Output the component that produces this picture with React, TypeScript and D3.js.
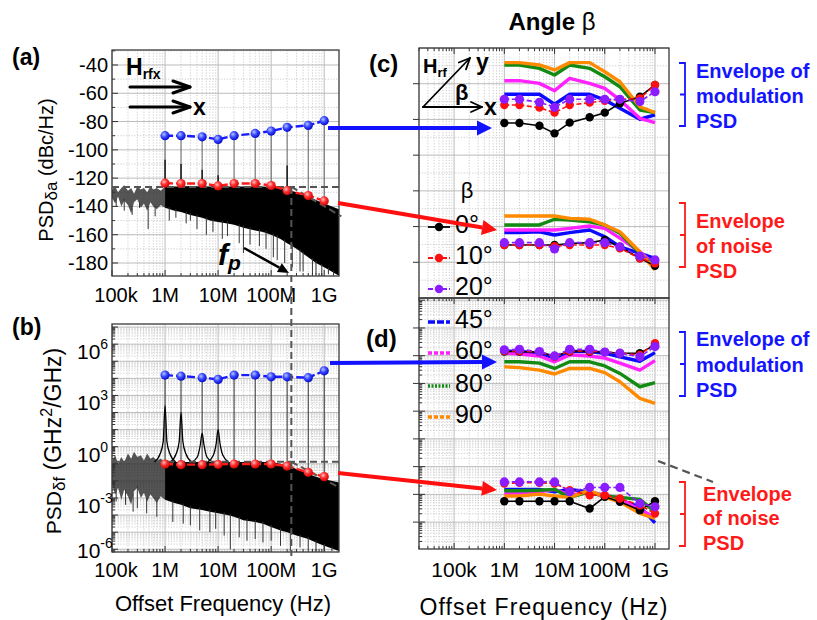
import React from "react";
import * as d3 from "d3";

const FONT = "'Liberation Sans', Arial, Helvetica, sans-serif";

// ---------- shared ----------
const FREQS = [1e6, 2e6, 5e6, 1e7, 2e7, 5e7, 1e8, 2e8, 5e8, 1e9];
const X_TICKS = [1e5, 1e6, 1e7, 1e8, 1e9];
const X_TICK_LABELS = ["100k", "1M", "10M", "100M", "1G"];
const F_P = 2.4e8;

// noise envelope sample frequencies (Hz)
const NOISE_F = [1e5, 1.15e5, 1.3e5, 1.5e5, 1.7e5, 2e5, 2.3e5, 2.6e5, 3e5, 3.5e5, 4e5, 4.6e5, 5.3e5, 6e5, 7e5, 8.3e5, 1e6,
  1.5e6, 2e6, 3e6, 5e6, 7e6, 1e7, 1.5e7, 2e7, 3e7, 5e7, 7e7, 1e8, 1.5e8, 2e8, 3e8, 5e8, 7e8, 1e9, 1.9e9];

// ---------- panel (a): PSD_δa (dBc/Hz) ----------
const A_MOD = [-90, -90, -90.8, -92.6, -90, -88.4, -86.7, -84.1, -82.7, -79.4];
const A_NOISE = [-123.6, -123.8, -123.8, -125.5, -123.8, -123.8, -125.2, -128.8, -132.3, -136.1];
const A_SPIKE_BASE = [-107, -110, -114, -118, -124, -126, -124, -111, -130, -136];
const A_NOISE_UP = [-128, -126, -130, -127, -125, -129, -127, -131, -126, -128, -127, -130, -126, -128, -127, -129, -126,
  -126, -126, -125.5, -126, -126, -126, -126, -126, -126, -126, -126, -126.5, -127, -128, -130, -133, -135.5, -138, -142];
const A_NOISE_LO = [-134, -138, -133, -140, -136, -139, -145, -137, -135, -141, -138, -143, -137, -140, -142, -139, -141,
  -143, -144, -146, -148, -150, -151, -152, -153, -155, -157, -158, -160, -163, -166, -170, -176, -180, -183, -189];
const A_DIP_F = [1.2e5, 1.7e5, 2.4e5, 3.3e5, 4.8e5, 6.5e5, 1.2e6, 1.6e6, 2.5e6, 3e6, 4e6, 6e6, 8e6, 1.2e7, 1.5e7, 2.5e7, 3e7, 4e7,
  6e7, 8e7, 1.1e8, 1.3e8, 1.8e8, 2.5e8, 3.5e8, 4e8, 6e8, 7e8, 9e8, 1.2e9, 1.5e9];
const A_DIP_V = [-140, -143, -146, -141, -156, -147, -150, -148, -152, -150, -156, -160, -158, -163, -161, -166, -173, -167,
  -168, -170, -176, -178, -180, -183, -186, -186, -188, -188, -189, -188, -189];
const A_Y_TICKS = [-40, -60, -80, -100, -120, -140, -160, -180];
const A_PLATEAU = -126.2;
const A_SLOPE_END = -147;

// ---------- panel (b): PSD_δf (GHz²/GHz), log10 values ----------
const B_MOD = [4.19, 4.13, 4.04, 3.94, 4.19, 4.19, 4.09, 4.09, 4.04, 4.44];
const B_NOISE = [-1.01, -1.05, -1.05, -1.03, -1.01, -1.01, -1.01, -1.13, -1.5, -1.75];
const B_NOISE_UP = [-0.8, -0.5, -1.0, -0.6, -0.9, -0.4, -0.7, -0.3, -0.6, -0.5, -0.8, -0.4, -0.7, -0.6, -0.8, -0.7, -0.9,
  -0.9, -0.9, -0.9, -0.9, -0.9, -0.9, -0.9, -0.9, -0.9, -0.9, -0.9, -0.9, -1.0, -1.1, -1.3, -1.6, -1.75, -1.9, -2.1];
const B_NOISE_LO = [-2.2, -2.8, -2.4, -3.1, -2.5, -2.9, -3.4, -2.6, -2.4, -3.0, -2.7, -3.2, -2.8, -3.0, -3.3, -2.9, -3.1,
  -3.3, -3.4, -3.6, -3.7, -3.8, -3.9, -4.0, -4.1, -4.3, -4.4, -4.5, -4.7, -4.9, -5.0, -5.2, -5.4, -5.6, -5.8, -6.1];
const B_DIP_F = [1.2e5, 1.8e5, 2.5e5, 3e5, 4.5e5, 7e5, 1.4e6, 2.2e6, 3e6, 4.5e6, 7e6, 9e6, 1.3e7, 1.7e7, 2.5e7, 3.5e7, 5e7,
  7e7, 1e8, 1.5e8, 2.3e8, 3.5e8, 5e8, 7e8, 1e9, 1.4e9];
const B_DIP_V = [-3.2, -3.4, -3.8, -3.6, -3.9, -4.1, -4.4, -4.5, -4.6, -4.9, -5.0, -4.8, -5.2, -6.0, -5.3, -5.5, -5.4,
  -5.6, -5.5, -5.8, -6.1, -5.9, -6.0, -6.1, -6.1, -6.1];
const B_PEAK_F = [1e6, 2e6, 5e6, 1e7];
const B_PEAK_TOP = [2.4, 2.0, 0.8, 1.0];
const B_PEAK_SHOULDER = [0.3, 0.3, 0.1, 0.2];
const B_Y_TICKS = [6, 3, 0, -3, -6];
const B_PLATEAU = -0.88;
const B_SLOPE_END = -2.3;

// ---------- panel (c): envelopes vs angle β (dB) ----------
const C_MOD_0 = [-82, -82, -83.5, -87.8, -81.8, -78.8, -76.2, -71, -67.3, -60.7];
const C_MOD_10 = [-71.9, -71.9, -73.4, -76.2, -71.9, -70.6, -69.5, -68.7, -68.2, -60.7];
const C_MOD_20 = [-68.7, -68.7, -70.4, -73.2, -68.7, -68.7, -68.7, -68.7, -70, -64.5];
const C_MOD_45 = [-65.9, -65.9, -65.9, -71.5, -65.9, -65.9, -69.1, -73.8, -79.9, -77.5];
const C_MOD_60 = [-58.3, -58.3, -59.8, -63.9, -57, -59.8, -62.6, -69.1, -79.4, -81.8];
const C_MOD_80 = [-49.5, -49.5, -51.4, -55.1, -49.5, -51.4, -56.1, -61.7, -74.7, -76.2];
const C_MOD_90 = [-48.2, -48.2, -49.5, -52.3, -48.2, -48.2, -53.3, -58.9, -72.9, -76.2];
const C_NOISE_0 = [-150.3, -150.3, -150.3, -150.3, -149.5, -149, -147.5, -151.3, -157.8, -162];
const C_NOISE_10 = [-150.3, -150.3, -150.3, -151, -150.3, -150.3, -150.3, -152.2, -157.8, -160.5];
const C_NOISE_20 = [-149, -149, -149, -152.5, -149, -149, -149, -151.3, -156.5, -158.7];
const C_NOISE_45 = [-143.4, -143.4, -142.9, -144.7, -143.4, -141.9, -145.7, -151.3, -155, -157.8];
const C_NOISE_60 = [-141.9, -141.9, -141.9, -141.9, -141, -139.7, -141, -146.5, -154.1, -161.5];
const C_NOISE_80 = [-139.1, -139.1, -139.1, -135.9, -136.3, -137.3, -139.1, -143.8, -155, -162.4];
const C_NOISE_90 = [-134.1, -134.1, -134.1, -134.1, -135.4, -135.9, -139.1, -142.9, -154.1, -164.3];
const C_Y_TICKS = [-60, -80, -100, -120, -140, -160];

// ---------- panel (d): envelopes vs angle β (log10) ----------
const D_MOD_0 = [4.15, 4.15, 4.13, 3.99, 4.15, 4.15, 4.13, 4.09, 4.09, 4.39];
const D_MOD_10 = [4.17, 4.17, 4.13, 3.96, 4.17, 4.17, 4.13, 4.09, 4.03, 4.45];
const D_MOD_20 = [4.21, 4.23, 4.15, 3.99, 4.23, 4.23, 4.13, 4.09, 3.96, 4.33];
const D_MOD_45 = [4.17, 4.15, 4.09, 3.91, 4.15, 4.15, 4.09, 3.96, 3.8, 4.11];
const D_MOD_60 = [4.09, 4.06, 3.99, 3.78, 4.03, 3.99, 3.91, 3.73, 3.48, 3.82];
const D_MOD_80 = [3.78, 3.78, 3.73, 3.54, 3.78, 3.78, 3.63, 3.36, 2.88, 3.03];
const D_MOD_90 = [3.6, 3.57, 3.48, 3.34, 3.54, 3.54, 3.39, 3.06, 2.46, 2.28];
const D_NOISE_0 = [-1.25, -1.25, -1.25, -1.25, -1.25, -1.51, -1.09, -1.27, -1.57, -1.25];
const D_NOISE_10 = [-0.61, -0.58, -0.58, -0.61, -0.85, -1.03, -1.03, -1.15, -1.39, -1.69];
const D_NOISE_20 = [-0.55, -0.55, -0.55, -0.55, -0.91, -0.75, -0.75, -0.75, -1.33, -1.45];
const D_NOISE_45 = [-0.82, -0.82, -0.82, -0.91, -0.82, -0.91, -1.09, -1.21, -1.45, -2.03];
const D_NOISE_60 = [-0.97, -0.97, -0.91, -0.82, -1.03, -0.91, -1.03, -1.15, -1.57, -1.81];
const D_NOISE_80 = [-0.87, -0.87, -0.85, -0.82, -1.11, -0.91, -1.06, -1.11, -1.18, -1.63];
const D_NOISE_90 = [-1.06, -1.06, -0.99, -1.06, -1.11, -0.85, -1.11, -1.27, -1.69, -1.87];
const D_Y_TICKS = [-2, -1, 0, 1, 2, 3, 4, 5];

const ANGLE_LABELS = ["0°", "10°", "20°", "45°", "60°", "80°", "90°"];
const ANGLE_COLORS = ["#000000", "#ff1010", "#8a1cff", "#0a0aff", "#ff22ff", "#138a13", "#ff8a00"];

// ---------- scales ----------
const xAB = d3.scaleLog().domain([1e5, 1.9e9]).range([112, 339]);
const yA = d3.scaleLinear().domain([-189.2, -29.4]).range([276, 50]);
const yB = d3.scaleLinear().domain([-6.16, 7.18]).range([552, 324]);
const xCD = d3.scaleLog().domain([2e4, 1.9e9]).range([419, 669]);
const yC = d3.scaleLinear().domain([-180, -40]).range([298, 48]);
const yD = d3.scaleLinear().domain([-2.97, 6.08]).range([549, 298]);

type Sc = (v: number) => number;

function logVals(lo: number, hi: number) {
  const out: { v: number; major: boolean }[] = [];
  for (let n = Math.floor(Math.log10(lo)); n <= Math.ceil(Math.log10(hi)); n++)
    for (let k = 1; k <= 9; k++) {
      const v = k * Math.pow(10, n);
      if (v >= lo * 0.999 && v <= hi * 1.001) out.push({ v, major: k === 1 });
    }
  return out;
}
function log10Vals(lo: number, hi: number) {
  const out: { v: number; major: boolean }[] = [];
  for (let n = Math.floor(lo); n <= Math.ceil(hi); n++)
    for (let k = 1; k <= 9; k++) {
      const v = n + Math.log10(k);
      if (v >= lo && v <= hi) out.push({ v, major: k === 1 });
    }
  return out;
}
function linVals(lo: number, hi: number, step: number, majorStep: number) {
  const out: { v: number; major: boolean }[] = [];
  const s = Math.ceil(lo / step) * step;
  for (let v = s; v <= hi + 1e-9; v += step) out.push({ v, major: Math.abs(v / majorStep - Math.round(v / majorStep)) < 1e-6 });
  return out;
}

const GRID_MAJ = "#bcbcbc";
const GRID_MIN = "#cdcdcd";

function Grid({ x, y, xv, yv }: { x: any; y: any; xv: any[]; yv: any[] }) {
  const [x0, x1] = x.range();
  const [y1, y0] = y.range();
  return (
    <g>
      {xv.map((t, i) => (
        <line key={"gx" + i} x1={x(t.v)} x2={x(t.v)} y1={y0} y2={y1}
          stroke={t.major ? GRID_MAJ : GRID_MIN} strokeWidth={1} strokeDasharray={t.major ? undefined : "1.2,1.6"} />
      ))}
      {yv.map((t, i) => (
        <line key={"gy" + i} x1={x0} x2={x1} y1={y(t.v)} y2={y(t.v)}
          stroke={t.major ? GRID_MAJ : GRID_MIN} strokeWidth={1} strokeDasharray={t.major ? undefined : "1.2,1.6"} />
      ))}
    </g>
  );
}

function Ticks({ x, y, xv, yv }: { x: any; y: any; xv: any[]; yv: any[] }) {
  const [x0] = x.range();
  const [y1] = y.range();
  return (
    <g stroke="#333" strokeWidth={1}>
      {xv.map((t, i) => (
        <line key={"tx" + i} x1={x(t.v)} x2={x(t.v)} y1={y1} y2={y1 - (t.major ? 6 : 3)} />
      ))}
      {yv.map((t, i) => (
        <line key={"ty" + i} x1={x0} x2={x0 + (t.major ? 6 : 3)} y1={y(t.v)} y2={y(t.v)} />
      ))}
    </g>
  );
}

function Frame({ x, y }: { x: any; y: any }) {
  const [x0, x1] = x.range();
  const [y1, y0] = y.range();
  return <rect x={x0} y={y0} width={x1 - x0} height={y1 - y0} fill="none" stroke="#3a3a3a" strokeWidth={1.3} />;
}

function SolidArrow({ x1, y1, x2, y2, color, w = 4, head = 15, hw = 7.5 }: any) {
  const a = Math.atan2(y2 - y1, x2 - x1);
  const bx = x2 - head * Math.cos(a);
  const by = y2 - head * Math.sin(a);
  const px = -Math.sin(a) * hw;
  const py = Math.cos(a) * hw;
  return (
    <g>
      <line x1={x1} y1={y1} x2={bx} y2={by} stroke={color} strokeWidth={w} />
      <polygon points={`${x2},${y2} ${bx + px},${by + py} ${bx - px},${by - py}`} fill={color} />
    </g>
  );
}

function OpenArrow({ x1, y1, x2, y2, w = 2.2, head = 14, hw = 7 }: any) {
  const a = Math.atan2(y2 - y1, x2 - x1);
  const bx = x2 - head * Math.cos(a);
  const by = y2 - head * Math.sin(a);
  const px = -Math.sin(a) * hw;
  const py = Math.cos(a) * hw;
  return (
    <g stroke="#000" strokeWidth={w} fill="none" strokeLinecap="round" strokeLinejoin="round">
      <line x1={x1} y1={y1} x2={x2} y2={y2} />
      <polyline points={`${bx + px},${by + py} ${x2},${y2} ${bx - px},${by - py}`} />
    </g>
  );
}

function Bracket({ x, y0, y1, color }: any) {
  const ym = (y0 + y1) / 2;
  return (
    <path d={`M${x - 6},${y0} H${x} V${y1} H${x - 6} M${x},${ym} H${x - 5}`} fill="none" stroke={color} strokeWidth={1.8} />
  );
}

export default function App() {
  const lineA = d3.line<number>().x((_, i) => xAB(FREQS[i])).y((d) => yA(d));
  const lineB = d3.line<number>().x((_, i) => xAB(FREQS[i])).y((d) => yB(d));
  const lineC = d3.line<number>().x((_, i) => xCD(FREQS[i])).y((d) => yC(d));
  const lineD = d3.line<number>().x((_, i) => xCD(FREQS[i])).y((d) => yD(d));

  const idxLow = NOISE_F.filter((f) => f <= 1e6).length;
  const areaA = d3.area<number>().x((i) => xAB(NOISE_F[i])).y0((i) => yA(A_NOISE_LO[i])).y1((i) => yA(A_NOISE_UP[i]));
  const areaB = d3.area<number>().x((i) => xAB(NOISE_F[i])).y0((i) => yB(B_NOISE_LO[i])).y1((i) => yB(B_NOISE_UP[i]));
  const idxAll = NOISE_F.map((_, i) => i);
  const lowIdx = idxAll.slice(0, idxLow);
  const highIdx = idxAll.slice(idxLow - 1);

  const interpAt = (f: number, F: number[], U: number[]) => {
    const lf = Math.log10(f);
    for (let i = 0; i < F.length - 1; i++) {
      const a = Math.log10(F[i]), b = Math.log10(F[i + 1]);
      if (lf >= a && lf <= b) return U[i] + ((lf - a) / (b - a)) * (U[i + 1] - U[i]);
    }
    return U[U.length - 1];
  };

  const cMod = [C_MOD_0, C_MOD_10, C_MOD_20, C_MOD_45, C_MOD_60, C_MOD_80, C_MOD_90];
  const cNoise = [C_NOISE_0, C_NOISE_10, C_NOISE_20, C_NOISE_45, C_NOISE_60, C_NOISE_80, C_NOISE_90];
  const dMod = [D_MOD_0, D_MOD_10, D_MOD_20, D_MOD_45, D_MOD_60, D_MOD_80, D_MOD_90];
  const dNoise = [D_NOISE_0, D_NOISE_10, D_NOISE_20, D_NOISE_45, D_NOISE_60, D_NOISE_80, D_NOISE_90];

  const thickOrder = [3, 4, 5, 6];
  const markOrder = [0, 1, 2];

  const renderAngleSet = (mods: number[][], noises: number[][], line: any, y: Sc) => (
    <g>
      {thickOrder.map((k) => (
        <g key={"t" + k}>
          <path d={line(mods[k])} fill="none" stroke={ANGLE_COLORS[k]} strokeWidth={3.4} strokeLinejoin="round" />
          <path d={line(noises[k])} fill="none" stroke={ANGLE_COLORS[k]} strokeWidth={3.4} strokeLinejoin="round" />
        </g>
      ))}
      {markOrder.map((k) => (
        <g key={"m" + k}>
          {[mods[k], noises[k]].map((arr, j) => (
            <g key={j}>
              <path d={line(arr)} fill="none" stroke={ANGLE_COLORS[k]} strokeWidth={1.6}
                strokeDasharray={k === 0 ? undefined : "5,2.5"} />
              {arr.map((v, i) => (
                <circle key={i} cx={xCD(FREQS[i])} cy={y(v)} r={k === 2 ? 4.6 : 4.2} fill={ANGLE_COLORS[k]} />
              ))}
            </g>
          ))}
        </g>
      ))}
    </g>
  );

  const xTicksAB = logVals(1e5, 1.9e9);
  const xTicksCD = logVals(2e4, 1.9e9);

  const legendY = [227, 258, 289, 322, 353, 386, 417];
  const legendDash = [undefined, "5,2", "5,2", "7,2", "4,2", "2,1.5", "4,2"];

  const peakOffsets = [-0.2, -0.09, -0.035, 0, 0.035, 0.09, 0.2];

  return (
    <div style={{ position: "absolute", left: 0, top: 0 }}>
      <svg width={817} height={620} viewBox="0 0 817 620" style={{ display: "block", fontFamily: FONT }}>
        <defs>
          <radialGradient id="ballBlue" cx="38%" cy="35%" r="70%">
            <stop offset="0" stopColor="#b8c4ff" />
            <stop offset="0.45" stopColor="#3a4cff" />
            <stop offset="1" stopColor="#0000c8" />
          </radialGradient>
          <radialGradient id="ballRed" cx="38%" cy="35%" r="70%">
            <stop offset="0" stopColor="#ffc0c0" />
            <stop offset="0.45" stopColor="#ff3030" />
            <stop offset="1" stopColor="#c80000" />
          </radialGradient>
          <clipPath id="clipA"><rect x={112} y={50} width={227} height={226} /></clipPath>
          <clipPath id="clipB"><rect x={112} y={324} width={227} height={228} /></clipPath>
        </defs>
        <rect x={0} y={0} width={817} height={620} fill="#fff" />

        {/* ================= panel (a) ================= */}
        <Grid x={xAB} y={yA} xv={xTicksAB} yv={linVals(-189, -30, 10, 20)} />
        <g clipPath="url(#clipA)">
          <path d={areaA(lowIdx) || ""} fill="#2a2a2a" opacity={0.8} />
          <path d={areaA(highIdx) || ""} fill="#000" />
          {A_DIP_F.map((f, i) => (
            <line key={i} x1={xAB(f)} x2={xAB(f)} y1={yA(interpAt(f, NOISE_F, A_NOISE_LO)) - 2} y2={yA(A_DIP_V[i])} stroke="#333" strokeWidth={1} />
          ))}
          {FREQS.map((f, i) => (
            <g key={"sp" + i}>
              <line x1={xAB(f)} x2={xAB(f)} y1={yA(A_NOISE[i])} y2={yA(A_MOD[i])} stroke="#666" strokeWidth={1} />
              <line x1={xAB(f)} x2={xAB(f)} y1={yA(A_NOISE[i])} y2={yA(A_SPIKE_BASE[i])} stroke="#111" strokeWidth={1.4} />
            </g>
          ))}
        </g>
        <Ticks x={xAB} y={yA} xv={xTicksAB} yv={linVals(-189, -30, 10, 20)} />
        <Frame x={xAB} y={yA} />
        <line x1={112} x2={339} y1={yA(A_PLATEAU)} y2={yA(A_PLATEAU)} stroke="#555" strokeWidth={2} strokeDasharray="7,4" />
        <line x1={xAB(F_P)} x2={xAB(2.1e9)} y1={yA(A_PLATEAU)} y2={yA(A_SLOPE_END)} stroke="#555" strokeWidth={2} strokeDasharray="7,4" />
        <path d={lineA(A_MOD) || ""} fill="none" stroke="#1a1aff" strokeWidth={2.4} strokeDasharray="8,3" />
        {A_MOD.map((v, i) => <circle key={i} cx={xAB(FREQS[i])} cy={yA(v)} r={4.6} fill="url(#ballBlue)" />)}
        <path d={lineA(A_NOISE) || ""} fill="none" stroke="#ff1a1a" strokeWidth={2.4} strokeDasharray="8,3" />
        {A_NOISE.map((v, i) => <circle key={i} cx={xAB(FREQS[i])} cy={yA(v)} r={4.6} fill="url(#ballRed)" />)}
        {A_Y_TICKS.map((v) => (
          <text key={v} x={108} y={yA(v) + 7} textAnchor="end" fontSize={20}>{v}</text>
        ))}
        {X_TICKS.map((v, i) => (
          <text key={v} x={xAB(v) + (i === 0 ? 4 : 0)} y={302} textAnchor="middle" fontSize={20}>{X_TICK_LABELS[i]}</text>
        ))}
        <text transform="translate(53,170) rotate(-90)" textAnchor="middle" fontSize={20}>
          PSD<tspan fontSize={17} dy={4}>δa</tspan><tspan dy={-4}>{"  (dBc/Hz)"}</tspan>
        </text>
        <text x={12} y={65} fontSize={23} fontWeight="bold">(a)</text>
        {/* H_rfx arrows */}
        <text x={126} y={75} fontSize={23} fontWeight="bold">H<tspan fontSize={14} dy={4}>rfx</tspan></text>
        <OpenArrow x1={130} y1={87} x2={190} y2={87} w={3} head={17} hw={6} />
        <OpenArrow x1={130} y1={107} x2={190} y2={107} w={3} head={17} hw={6} />
        <text x={193} y={115} fontSize={23} fontWeight="bold">x</text>
        {/* f_p */}
        <text x={218} y={265} fontSize={30} fontWeight="bold" fontStyle="italic">f<tspan fontSize={21} dy={5}>p</tspan></text>
        <SolidArrow x1={244} y1={248} x2={289} y2={273} color="#000" w={2.5} head={11} hw={5} />

        {/* ================= panel (b) ================= */}
        <Grid x={xAB} y={yB} xv={xTicksAB} yv={log10Vals(-6.16, 7.18)} />
        <g clipPath="url(#clipB)">
          <path d={areaB(lowIdx) || ""} fill="#2a2a2a" opacity={0.8} />
          <path d={areaB(highIdx) || ""} fill="#000" />
          {B_DIP_F.map((f, i) => (
            <line key={i} x1={xAB(f)} x2={xAB(f)} y1={yB(interpAt(f, NOISE_F, B_NOISE_LO)) - 2} y2={yB(B_DIP_V[i])} stroke="#333" strokeWidth={1} />
          ))}
          {FREQS.map((f, i) => (
            <line key={"sp" + i} x1={xAB(f)} x2={xAB(f)} y1={yB(B_NOISE[i])} y2={yB(B_MOD[i])} stroke="#333" strokeWidth={1} />
          ))}
          {B_PEAK_F.map((f, i) => {
            const vals = [B_NOISE_UP[16], B_PEAK_SHOULDER[i] - 0.7, B_PEAK_SHOULDER[i], B_PEAK_TOP[i], B_PEAK_SHOULDER[i], B_PEAK_SHOULDER[i] - 0.7, B_NOISE_UP[16]];
            const pts: [number, number][] = peakOffsets.map((o, j) => [xAB(f * Math.pow(10, o)), yB(vals[j])]);
            return <path key={i} d={d3.line().curve(d3.curveMonotoneX)(pts) || ""} fill="none" stroke="#000" strokeWidth={1.3} />;
          })}
        </g>
        <Ticks x={xAB} y={yB} xv={xTicksAB} yv={log10Vals(-6.16, 7.18)} />
        <Frame x={xAB} y={yB} />
        <line x1={112} x2={339} y1={yB(B_PLATEAU)} y2={yB(B_PLATEAU)} stroke="#555" strokeWidth={2} strokeDasharray="7,4" />
        <line x1={xAB(F_P)} x2={xAB(1.7e9)} y1={yB(B_PLATEAU)} y2={yB(B_SLOPE_END)} stroke="#555" strokeWidth={2} strokeDasharray="7,4" />
        <path d={lineB(B_MOD) || ""} fill="none" stroke="#1a1aff" strokeWidth={2.4} strokeDasharray="8,3" />
        {B_MOD.map((v, i) => <circle key={i} cx={xAB(FREQS[i])} cy={yB(v)} r={4.6} fill="url(#ballBlue)" />)}
        <path d={lineB(B_NOISE) || ""} fill="none" stroke="#ff1a1a" strokeWidth={2.4} strokeDasharray="8,3" />
        {B_NOISE.map((v, i) => <circle key={i} cx={xAB(FREQS[i])} cy={yB(v)} r={4.6} fill="url(#ballRed)" />)}
        {B_Y_TICKS.map((n) => (
          <text key={n} x={77} y={Math.min(yB(n) + 15, 558)} fontSize={21}>
            10<tspan fontSize={14} dy={-10}>{n}</tspan>
          </text>
        ))}
        {X_TICKS.map((v, i) => (
          <text key={v} x={xAB(v) + (i === 0 ? 4 : 0)} y={577} textAnchor="middle" fontSize={20}>{X_TICK_LABELS[i]}</text>
        ))}
        <text x={223} y={611} textAnchor="middle" fontSize={22}>Offset Frequency (Hz)</text>
        <text transform="translate(61,441) rotate(-90)" textAnchor="middle" fontSize={21}>
          PSD<tspan fontSize={17} dy={4}>δf</tspan><tspan dy={-4} fontSize={23}>{" (GHz"}</tspan>
          <tspan fontSize={16} dy={-9}>2</tspan><tspan dy={9} fontSize={23}>/GHz)</tspan>
        </text>
        <text x={12} y={335} fontSize={23} fontWeight="bold">(b)</text>

        {/* f_p vertical */}
        <line x1={xAB(F_P)} x2={xAB(F_P)} y1={yA(A_PLATEAU)} y2={556} stroke="#555" strokeWidth={2} strokeDasharray="7,4" />

        {/* ================= panel (c) ================= */}
        <Grid x={xCD} y={yC} xv={xTicksCD} yv={linVals(-180, -40, 10, 20)} />
        {renderAngleSet(cMod, cNoise, lineC, yC)}
        <g stroke="#333" strokeWidth={1}>
          {C_Y_TICKS.map((v) => <line key={v} x1={413} x2={419} y1={yC(v)} y2={yC(v)} />)}
          {xTicksCD.map((t, i) => <line key={i} x1={xCD(t.v)} x2={xCD(t.v)} y1={48} y2={48 + (t.major ? 6 : 3)} />)}
        </g>
        <Frame x={xCD} y={yC} />
        <text x={369} y={72} fontSize={24} fontWeight="bold">(c)</text>
        <text x={552} y={30} textAnchor="middle" fontSize={24} fontWeight="bold">Angle <tspan fontWeight="normal">β</tspan></text>
        {/* β inset */}
        <text x={423} y={73} fontSize={20} fontWeight="bold">H<tspan fontSize={13} dy={4}>rf</tspan></text>
        <OpenArrow x1={423} y1={107} x2={470} y2={58} w={1.8} head={11} hw={5} />
        <OpenArrow x1={423} y1={107} x2={482} y2={107} w={1.8} head={11} hw={5} />
        <text x={476} y={70} fontSize={23} fontWeight="bold">y</text>
        <text x={484} y={115} fontSize={23} fontWeight="bold">x</text>
        <text x={455} y={100} fontSize={22} fontWeight="bold">β</text>

        {/* ================= panel (d) ================= */}
        <Grid x={xCD} y={yD} xv={xTicksCD} yv={log10Vals(-2.97, 6.08)} />
        {renderAngleSet(dMod, dNoise, lineD, yD)}
        <g stroke="#333" strokeWidth={1}>
          {D_Y_TICKS.map((v) => <line key={v} x1={413} x2={419} y1={yD(v)} y2={yD(v)} />)}
          {log10Vals(-2.97, 6.08).map((t, i) => <line key={"m" + i} x1={419} x2={419 + (t.major ? 6 : 3)} y1={yD(t.v)} y2={yD(t.v)} />)}
          {xTicksCD.map((t, i) => <line key={i} x1={xCD(t.v)} x2={xCD(t.v)} y1={298} y2={298 + (t.major ? 6 : 3)} />)}
          {xTicksCD.map((t, i) => <line key={"b" + i} x1={xCD(t.v)} x2={xCD(t.v)} y1={549} y2={549 - (t.major ? 6 : 3)} />)}
        </g>
        <Frame x={xCD} y={yD} />
        {X_TICKS.map((v, i) => (
          <text key={v} x={xCD(v)} y={577} textAnchor="middle" fontSize={21}>{X_TICK_LABELS[i]}</text>
        ))}
        <text x={544} y={615} textAnchor="middle" fontSize={23} letterSpacing={1.1}>Offset Frequency (Hz)</text>
        <text x={366} y={347} fontSize={24} fontWeight="bold">(d)</text>

        {/* legend */}
        <text x={467} y={198} textAnchor="middle" fontSize={22}>β</text>
        {ANGLE_LABELS.map((lab, k) => (
          <g key={lab}>
            <line x1={428} x2={450} y1={legendY[k]} y2={legendY[k]} stroke={ANGLE_COLORS[k]}
              strokeWidth={k < 3 ? 1.8 : 3.4} strokeDasharray={legendDash[k]} />
            {k < 3 && <circle cx={439} cy={legendY[k]} r={4.2} fill={ANGLE_COLORS[k]} />}
            <text x={455} y={legendY[k] + 6} fontSize={25}>{lab}</text>
          </g>
        ))}

        {/* gray dashed extension near (d) */}
        <line x1={658} y1={461} x2={713} y2={482} stroke="#555" strokeWidth={2.2} strokeDasharray="8,5" />

        {/* connecting arrows */}
        <SolidArrow x1={328} y1={128} x2={492} y2={128} color="#1212ff" />
        <SolidArrow x1={338} y1={203} x2={497} y2={230} color="#ff1010" />
        <SolidArrow x1={330} y1={363} x2={497} y2={362} color="#1212ff" />
        <SolidArrow x1={338} y1={473} x2={497} y2={490} color="#ff1010" />

        {/* brackets and annotations */}
        <Bracket x={685} y0={63} y1={126} color="#1414ff" />
        <Bracket x={685} y0={203} y1={267} color="#ff1a1a" />
        <Bracket x={685} y0={332} y1={396} color="#1414ff" />
        <Bracket x={685} y0={482} y1={546} color="#ff1a1a" />
        <g fontSize={20} fontWeight="bold" fill="#1414ff">
          <text x={696} y={78}>Envelope of</text>
          <text x={696} y={103}>modulation</text>
          <text x={696} y={128}>PSD</text>
          <text x={696} y={346}>Envelope of</text>
          <text x={696} y={372}>modulation</text>
          <text x={696} y={397}>PSD</text>
        </g>
        <g fontSize={20} fontWeight="bold" fill="#ff1a1a">
          <text x={696} y={228}>Envelope</text>
          <text x={696} y={253}>of noise</text>
          <text x={696} y={278}>PSD</text>
          <text x={703} y={501}>Envelope</text>
          <text x={703} y={525}>of noise</text>
          <text x={703} y={550}>PSD</text>
        </g>
      </svg>
    </div>
  );
}
